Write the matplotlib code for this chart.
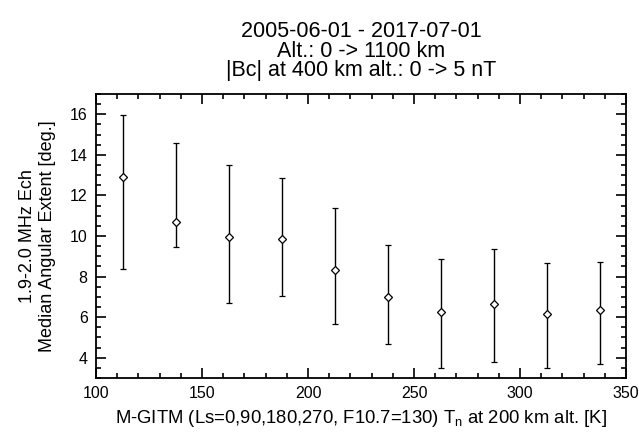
import numpy as np
import matplotlib.pyplot as plt
from matplotlib.ticker import MultipleLocator

plt.rcParams['font.family'] = ['Liberation Sans', 'DejaVu Sans']
plt.rcParams['mathtext.default'] = 'regular'

# binned neutral temperature (bin centres) and median angular extent
tn = [112.5, 137.5, 162.5, 187.5, 212.5, 237.5, 262.5, 287.5, 312.5, 337.5]
median = [12.89, 10.70, 9.97, 9.85, 8.31, 6.98, 6.27, 6.63, 6.15, 6.37]
upper = [15.97, 14.57, 13.51, 12.88, 11.36, 9.57, 8.88, 9.36, 8.65, 8.73]
lower = [8.39, 9.46, 6.68, 7.02, 5.64, 4.67, 3.51, 3.80, 3.51, 3.70]

med = np.array(median)
yerr = [med - np.array(lower), np.array(upper) - med]

fig = plt.figure(figsize=(6.39, 4.34), dpi=100)
ax = fig.add_axes([96/639, 1 - 378/434, (626-96)/639, (378-94)/434])

ax.errorbar(tn, median, yerr=yerr, fmt='D', mfc='white', mec='black', ms=4,
            mew=0.9, ecolor='black', elinewidth=1.0, capsize=2.5, capthick=1.0,
            color='black')

ax.set_xlim(100, 350)
ax.set_ylim(3, 17)
ax.xaxis.set_major_locator(MultipleLocator(50))
ax.xaxis.set_minor_locator(MultipleLocator(10))
ax.yaxis.set_major_locator(MultipleLocator(2))
ax.yaxis.set_minor_locator(MultipleLocator(0.5))
ax.tick_params(which='both', direction='in', top=True, right=True,
               labelsize=11.5, width=1.2, pad=6)
ax.tick_params(which='major', length=7)
ax.tick_params(which='minor', length=3.5)
for s in ax.spines.values():
    s.set_linewidth(1.3)

ax.set_xlabel('M-GITM (Ls=0,90,180,270, F10.7=130) $T_n$ at 200 km alt. [K]',
              fontsize=13.3, labelpad=4.5)
ax.set_ylabel('1.9-2.0 MHz Ech\nMedian Angular Extent [deg.]', fontsize=13,
              labelpad=10, linespacing=1.25)
ax.set_title('2005-06-01 - 2017-07-01\nAlt.: 0 -> 1100 km\n|Bc| at 400 km alt.: 0 -> 5 nT',
             fontsize=15.5, linespacing=0.9, pad=13)

fig.savefig('out.png', dpi=100)
